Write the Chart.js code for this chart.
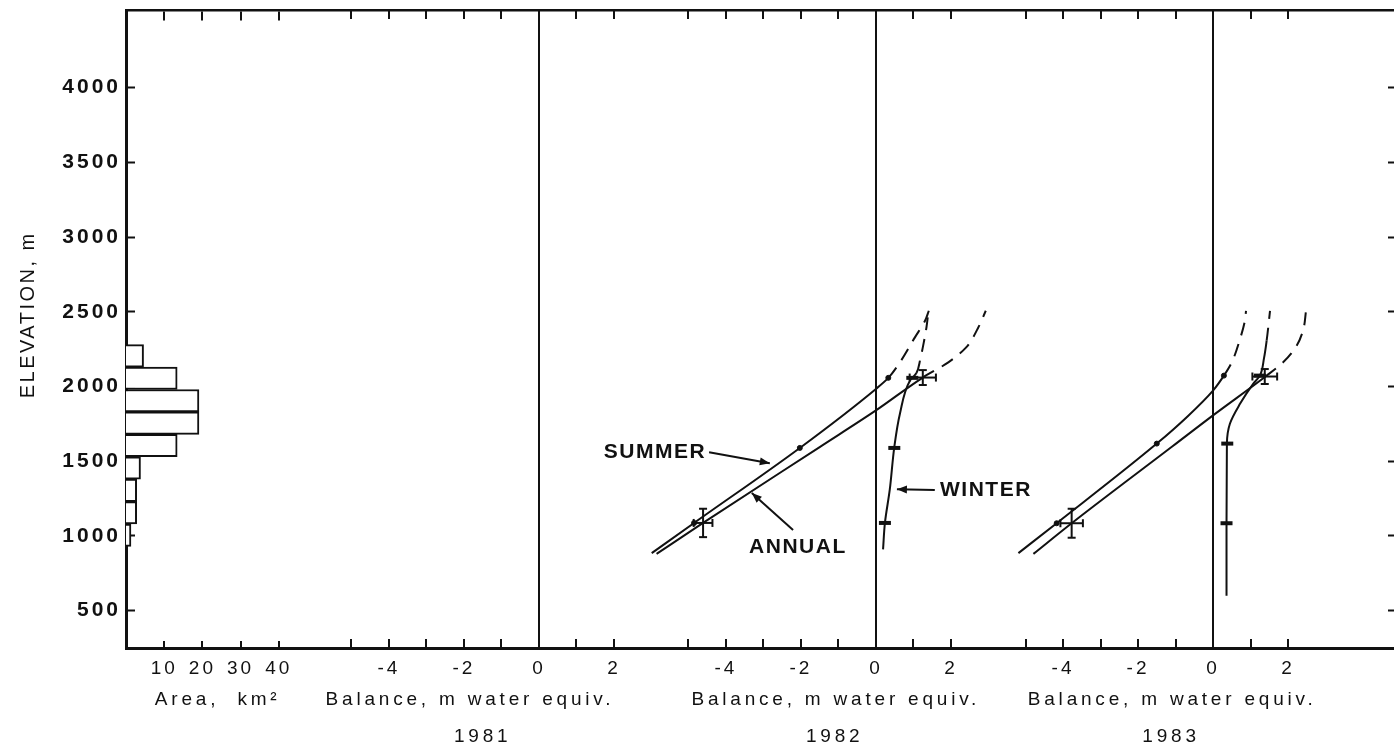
<!DOCTYPE html>
<html>
<head>
<meta charset="utf-8">
<title>Balance profiles 1981-1983</title>
<script src="https://cdn.jsdelivr.net/npm/chart.js@4.4.1/dist/chart.umd.min.js"></script>
<style>
  html, body { margin: 0; padding: 0; background: #fff; overflow: hidden; }
  #wrap { width: 1406px; height: 751px; }
</style>
</head>
<body>
<div id="wrap"><canvas id="chart" width="1406" height="751"></canvas></div>
<script>
// elevation axis (m)
const elevTicks = [500, 1000, 1500, 2000, 2500, 3000, 3500, 4000];
const ELEV_MIN = 250, ELEV_MAX = 4520;

// area-altitude histogram : bin centres (m) and area (km2)
const areaBinElev = [1005, 1155, 1305, 1455, 1605, 1755, 1905, 2055, 2205];
const areaKm2 = [1.3, 2.8, 2.8, 3.8, 13.4, 19.1, 19.1, 13.4, 4.6];
const areaTicks = [10, 20, 30, 40];

// balance axes (m water equiv.)
const balanceTicks = [-5, -4, -3, -2, -1, 0, 1, 2];
const balanceLabels = [-4, -2, 0, 2];
const years = ['1981', '1982', '1983'];

// 1982 profiles
const summer82Elev = [885, 1087, 1589, 1984, 2058, 2162, 2329, 2440, 2507];
const summer82 = [-5.98, -4.85, -2.03, 0, 0.33, 0.64, 1.04, 1.31, 1.41];
const annual82Elev = [880, 1087, 1595, 1840, 2060, 2160, 2260, 2390, 2507];
const annual82 = [-5.85, -4.61, -1.5, 0, 1.25, 1.92, 2.4, 2.72, 2.93];
const winter82Elev = [910, 1087, 1311, 1595, 1818, 2040, 2090, 2180, 2300, 2400, 2507];
const winter82 = [0.19, 0.24, 0.37, 0.49, 0.64, 0.91, 1.08, 1.18, 1.28, 1.35, 1.4];
// 1982 stake measurements
const stake82Elev = [1087, 1589, 2058];
const summerStake82 = [-4.85, -2.03, 0.33];
const winterStake82 = [0.24, 0.49, 0.97];
const annualErr82Elev = [1087, 2060];
const annualErr82 = [-4.61, 1.25];
const annualErr82dB = [0.25, 0.35];
const annualErr82dE = [95, 50];

// 1983 profiles
const summer83Elev = [885, 1085, 1618, 1800, 1973, 2073, 2162, 2318, 2440, 2507];
const summer83 = [-5.19, -4.17, -1.5, -0.68, 0, 0.29, 0.5, 0.72, 0.85, 0.88];
const annual83Elev = [880, 1085, 1600, 1807, 2067, 2162, 2273, 2384, 2507];
const annual83 = [-4.79, -3.77, -1.08, 0, 1.4, 1.87, 2.23, 2.41, 2.48];
const winter83Elev = [600, 1085, 1618, 1751, 1884, 2018, 2073, 2190, 2307, 2507];
const winter83 = [0.36, 0.36, 0.37, 0.45, 0.72, 1.07, 1.25, 1.36, 1.43, 1.52];
// 1983 stake measurements
const stake83Elev = [1085, 1618, 2073];
const summerStake83 = [-4.17, -1.5, 0.29];
const winterStake83 = [0.36, 0.38, 1.25];
const annualErr83Elev = [1085, 2067];
const annualErr83 = [-3.77, 1.38];
const annualErr83dB = [0.3, 0.33];
const annualErr83dE = [97, 50];

const INK = '#111';
const FONT = '"Liberation Sans", Arial, sans-serif';
Chart.defaults.font.family = FONT;
Chart.defaults.color = INK;

function pts(elev, bal) {
  return elev.map((e, i) => ({ x: bal[i], y: e }));
}

// solid below dashFrom, dashed above
function profile(axis, elev, bal, dashFrom) {
  return {
    type: 'line', xAxisID: axis, yAxisID: 'y', indexAxis: 'y',
    data: pts(elev, bal),
    borderColor: INK, borderWidth: 2, pointRadius: 0, fill: false,
    cubicInterpolationMode: 'monotone',
    segment: { borderDash: c => (c.p0.parsed.y >= dashFrom ? [13, 9] : undefined) }
  };
}

function marks(axis, elev, bal, style, radius, width) {
  return {
    type: 'scatter', xAxisID: axis, yAxisID: 'y', data: pts(elev, bal), showLine: false,
    pointStyle: style, pointRadius: radius, pointBorderWidth: width,
    pointBackgroundColor: INK, pointBorderColor: INK
  };
}

function errorBars(axis, elev, bal, dBal, dElev) {
  const out = [];
  elev.forEach((e, i) => {
    const common = {
      type: 'line', xAxisID: axis, yAxisID: 'y', borderColor: INK, borderWidth: 2,
      pointStyle: 'line', pointRadius: 4, pointBorderWidth: 2, pointBorderColor: INK
    };
    out.push({ ...common, pointRotation: 90,
      data: [{ x: bal[i] - dBal[i], y: e }, { x: bal[i] + dBal[i], y: e }] });
    out.push({ ...common, pointRotation: 0,
      data: [{ x: bal[i], y: e - dElev[i] }, { x: bal[i], y: e + dElev[i] }] });
  });
  return out;
}

function labelBalance(v) {
  return balanceLabels.includes(v) ? String(v) : '';
}

// no label overhang padding, the frame is placed by hand
function noPadding(s) {
  s.paddingLeft = 0; s.paddingRight = 0; s.paddingTop = 0; s.paddingBottom = 0;
}

// x axes lying on the bottom (or top) frame line
function panelAxis(min, max, ticks, callback, zeroLine, atTop, border) {
  return {
    type: 'linear', axis: 'x', min: min, max: max, offset: false,
    position: { y: atTop ? ELEV_MAX : ELEV_MIN },
    afterBuildTicks: s => { s.ticks = ticks.map(v => ({ value: v })); },
    afterFit: noPadding,
    ticks: { display: !atTop, callback: callback, font: { size: 19 }, padding: 18,
      color: INK, maxRotation: 0, autoSkip: false },
    grid: {
      drawOnChartArea: zeroLine, offset: false,
      color: c => (c.tick && c.tick.value === 0 ? INK : 'rgba(0,0,0,0)'),
      lineWidth: 2, tickLength: atTop ? 9 : -9, tickColor: INK, tickWidth: 2
    },
    border: border ? { display: true, color: INK, width: border } : { display: false }
  };
}

const captions = {
  id: 'captions',
  beforeDraw(chart) {
    chart.ctx.letterSpacing = '3px';
  },
  afterDraw(chart) {
    const { ctx, scales } = chart;
    const y = scales.y;
    ctx.save();
    ctx.fillStyle = INK;
    ctx.strokeStyle = INK;
    ctx.textBaseline = 'middle';
    ctx.textAlign = 'center';
    ctx.font = '19px ' + FONT;
    ctx.letterSpacing = '3.8px';
    ctx.fillText('Area,  km\u00b2', scales.area.getPixelForValue(24), 700);
    const captionAt = [-1.84, -1.07, -1.09];
    const yearAt = [-1.5, -1.1, -1.12];
    ['b1981', 'b1982', 'b1983'].forEach((id, i) => {
      ctx.fillText('Balance, m water equiv.', scales[id].getPixelForValue(captionAt[i]), 700);
      ctx.fillText(years[i], scales[id].getPixelForValue(yearAt[i]), 737);
    });

    // y axis title
    ctx.save();
    ctx.translate(28, y.getPixelForValue(2480));
    ctx.rotate(-Math.PI / 2);
    ctx.font = '20px ' + FONT;
    ctx.letterSpacing = '2.5px';
    ctx.fillText('ELEVATION, m', 0, 0);
    ctx.restore();

    // curve names with arrows, 1982 panel
    const x82 = scales.b1982;
    const P = (b, e) => [x82.getPixelForValue(b), y.getPixelForValue(e)];
    ctx.font = 'bold 21px ' + FONT;
    ctx.letterSpacing = '1.5px';
    const say = (text, p, align) => { ctx.textAlign = align; ctx.fillText(text, p[0], p[1]); };
    const arrow = (a, b) => {
      ctx.lineWidth = 2;
      ctx.beginPath(); ctx.moveTo(a[0], a[1]); ctx.lineTo(b[0], b[1]); ctx.stroke();
      const ang = Math.atan2(b[1] - a[1], b[0] - a[0]);
      ctx.beginPath();
      ctx.moveTo(b[0], b[1]);
      ctx.lineTo(b[0] - 10 * Math.cos(ang) + 4 * Math.sin(ang), b[1] - 10 * Math.sin(ang) - 4 * Math.cos(ang));
      ctx.lineTo(b[0] - 10 * Math.cos(ang) - 4 * Math.sin(ang), b[1] - 10 * Math.sin(ang) + 4 * Math.cos(ang));
      ctx.closePath(); ctx.fill();
    };
    say('SUMMER', P(-4.53, 1560), 'right');
    arrow(P(-4.45, 1560), P(-2.83, 1487));
    say('ANNUAL', P(-2.08, 927), 'center');
    arrow(P(-2.21, 1040), P(-3.31, 1287));
    say('WINTER', P(1.71, 1307), 'left');
    arrow(P(1.57, 1307), P(0.56, 1313));
    ctx.restore();
  }
};

const datasets = [
  {
    type: 'bar', indexAxis: 'y', xAxisID: 'area', yAxisID: 'y',
    data: pts(areaBinElev, areaKm2),
    backgroundColor: '#fff', borderColor: INK, borderWidth: 2,
    barPercentage: 1, categoryPercentage: 1, grouped: false
  },
  profile('b1982', summer82Elev, summer82, 2058),
  profile('b1982', annual82Elev, annual82, 2060),
  profile('b1982', winter82Elev, winter82, 2090),
  marks('b1982', stake82Elev, summerStake82, 'circle', 2.5, 1),
  marks('b1982', stake82Elev, winterStake82, 'line', 6, 4),
  ...errorBars('b1982', annualErr82Elev, annualErr82, annualErr82dB, annualErr82dE),
  profile('b1983', summer83Elev, summer83, 2073),
  profile('b1983', annual83Elev, annual83, 2067),
  profile('b1983', winter83Elev, winter83, 2307),
  marks('b1983', stake83Elev, summerStake83, 'circle', 2.5, 1),
  marks('b1983', stake83Elev, winterStake83, 'line', 6, 4),
  ...errorBars('b1983', annualErr83Elev, annualErr83, annualErr83dB, annualErr83dE)
];

new Chart(document.getElementById('chart'), {
  type: 'scatter',
  data: { datasets: datasets },
  options: {
    responsive: false,
    animation: false,
    devicePixelRatio: 1,
    layout: { padding: { top: 7, right: 0, bottom: 103, left: 0 } },
    plugins: { legend: { display: false }, tooltip: { enabled: false } },
    scales: {
      y: {
        type: 'linear', position: 'left', min: ELEV_MIN, max: ELEV_MAX, offset: false,
        afterBuildTicks: s => { s.ticks = elevTicks.map(v => ({ value: v })); },
        afterFit: s => { s.width = 126; noPadding(s); },
        ticks: { font: { size: 21, weight: 'bold' }, padding: 14, color: INK, callback: v => String(v) },
        grid: { drawOnChartArea: false, offset: false, tickLength: -9, tickColor: INK, tickWidth: 2 },
        border: { color: INK, width: 3 }
      },
      yR: {
        type: 'linear', position: 'right', min: ELEV_MIN, max: ELEV_MAX, offset: false,
        afterBuildTicks: s => { s.ticks = elevTicks.map(v => ({ value: v })); },
        afterFit: s => { s.width = 4; noPadding(s); },
        ticks: { display: false },
        grid: { drawOnChartArea: false, tickLength: -8, tickColor: INK, tickWidth: 2 },
        border: { color: INK, width: 2 }
      },
      area: panelAxis(0, 332.5, areaTicks, v => String(v), false, false, 3),
      areaTop: panelAxis(0, 332.5, areaTicks, v => String(v), false, true, 2.5),
      b1981: panelAxis(-11.01, 22.85, balanceTicks, labelBalance, true, false, 0),
      b1981Top: panelAxis(-11.01, 22.85, balanceTicks, labelBalance, false, true, 0),
      b1982: panelAxis(-20.0, 13.87, balanceTicks, labelBalance, true, false, 0),
      b1982Top: panelAxis(-20.0, 13.87, balanceTicks, labelBalance, false, true, 0),
      b1983: panelAxis(-28.99, 4.88, balanceTicks, labelBalance, true, false, 0),
      b1983Top: panelAxis(-28.99, 4.88, balanceTicks, labelBalance, false, true, 0)
    }
  },
  plugins: [captions]
});
</script>
</body>
</html>
